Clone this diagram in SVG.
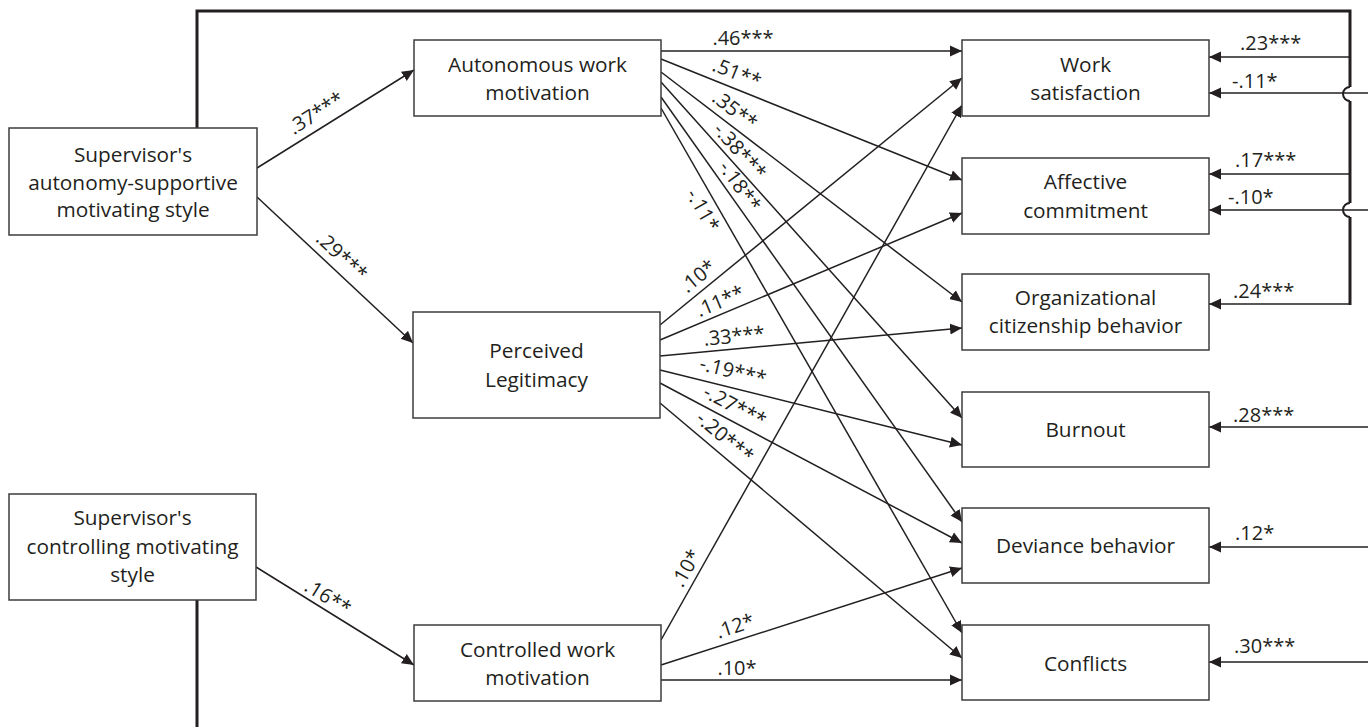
<svg xmlns="http://www.w3.org/2000/svg" width="1368" height="727" viewBox="0 0 1368 727">
<defs>
<marker id="ah" markerUnits="userSpaceOnUse" markerWidth="13" markerHeight="12" refX="12" refY="6" orient="auto">
<path d="M0,0.5 L12,6 L0,11.5 z" fill="#231f20"/>
</marker>
<style>
.box{fill:#fff;stroke:#3c3c3c;stroke-width:1.5}
.t{font-family:"Open Sans","Noto Sans","Liberation Sans",sans-serif;font-size:20.8px;fill:#231f20;text-anchor:middle}
.c{font-family:"Open Sans","Noto Sans","Liberation Sans",sans-serif;font-size:20px;fill:#231f20;text-anchor:middle}
.r{font-family:"Open Sans","Noto Sans","Liberation Sans",sans-serif;font-size:20px;fill:#231f20;text-anchor:start}
.ln{fill:none;stroke:#231f20;stroke-width:1.5;marker-end:url(#ah)}
.thk{fill:none;stroke:#231f20;stroke-width:3}
.hop{fill:none;stroke:#231f20;stroke-width:2}
</style>
</defs>
<rect width="1368" height="727" fill="#fff"/>

<g id="connectors">
<path class="thk" d="M197,128 V11 H1350 V87"/>
<path class="hop" d="M1350,87 A7,7 0 0 0 1350,101"/>
<path class="thk" d="M1350,101 V203"/>
<path class="hop" d="M1350,203 A7,7 0 0 0 1350,217"/>
<path class="thk" d="M1350,217 V305"/>
<path class="thk" d="M197,600 V727"/>
<line class="ln" x1="1350" y1="57" x2="1209" y2="57"/>
<line class="ln" x1="1368" y1="93" x2="1209" y2="93"/>
<line class="ln" x1="1350" y1="174" x2="1209" y2="174"/>
<line class="ln" x1="1368" y1="210" x2="1209" y2="210"/>
<line class="ln" x1="1351" y1="304" x2="1209" y2="304"/>
<line class="ln" x1="1368" y1="427" x2="1209" y2="427"/>
<line class="ln" x1="1368" y1="547" x2="1209" y2="547"/>
<line class="ln" x1="1368" y1="662" x2="1209" y2="662"/>
<line class="ln" x1="257" y1="168" x2="414" y2="70"/>
<line class="ln" x1="257" y1="197" x2="413" y2="343"/>
<line class="ln" x1="256" y1="567" x2="414" y2="665"/>
<line class="ln" x1="661" y1="51" x2="962" y2="51"/>
<line class="ln" x1="661" y1="59" x2="962" y2="180"/>
<line class="ln" x1="661" y1="72" x2="962" y2="302"/>
<line class="ln" x1="661" y1="82" x2="962" y2="418"/>
<line class="ln" x1="661" y1="97" x2="962" y2="522"/>
<line class="ln" x1="661" y1="108" x2="962" y2="633"/>
<line class="ln" x1="660" y1="325" x2="962" y2="78"/>
<line class="ln" x1="660" y1="340" x2="962" y2="213"/>
<line class="ln" x1="660" y1="356" x2="962" y2="328"/>
<line class="ln" x1="660" y1="370" x2="962" y2="445"/>
<line class="ln" x1="660" y1="383" x2="962" y2="543"/>
<line class="ln" x1="660" y1="403" x2="962" y2="658"/>
<line class="ln" x1="661" y1="640" x2="962" y2="105"/>
<line class="ln" x1="661" y1="665" x2="962" y2="568"/>
<line class="ln" x1="661" y1="680" x2="962" y2="680"/>

<text class="c" transform="translate(316,113) rotate(-32)" y="7">.37***</text>
<text class="c" transform="translate(342,256) rotate(43)" y="7">.29***</text>
<text class="c" transform="translate(328,597) rotate(31.8)" y="7">.16**</text>
<text class="c" x="743" y="45">.46***</text>
<text class="c" transform="translate(737,73) rotate(21.9)" y="7">.51**</text>
<text class="c" transform="translate(735,110) rotate(37.4)" y="7">.35**</text>
<text class="c" transform="translate(740,151) rotate(48.1)" y="7">-.38***</text>
<text class="c" transform="translate(740,186) rotate(54.7)" y="7">-.18**</text>
<text class="c" transform="translate(703,210) rotate(60.2)" y="7">-.11*</text>
<text class="c" transform="translate(698,276) rotate(-39.3)" y="7">.10*</text>
<text class="c" transform="translate(720,301) rotate(-22.8)" y="7">.11**</text>
<text class="c" transform="translate(734,336) rotate(-5.3)" y="7">.33***</text>
<text class="c" transform="translate(733,371) rotate(14)" y="7">-.19***</text>
<text class="c" transform="translate(735,406) rotate(27.9)" y="7">-.27***</text>
<text class="c" transform="translate(725,437) rotate(40.2)" y="7">-.20***</text>
<text class="c" transform="translate(686,568) rotate(-60.6)" y="7">.10*</text>
<text class="c" transform="translate(735,626) rotate(-17.9)" y="7">.12*</text>
<text class="c" x="737" y="675">.10*</text>
<text class="r" x="1240" y="50">.23***</text>
<text class="r" x="1232" y="88">-.11*</text>
<text class="r" x="1235" y="167">.17***</text>
<text class="r" x="1228" y="204">-.10*</text>
<text class="r" x="1233" y="298">.24***</text>
<text class="r" x="1233" y="422">.28***</text>
<text class="r" x="1235" y="540">.12*</text>
<text class="r" x="1234" y="653">.30***</text>
</g>

<g id="n-autonomy-support">
<rect class="box" x="9" y="128" width="248" height="107"/>
<text class="t" x="133" y="162">Supervisor's</text>
<text class="t" x="133" y="190">autonomy-supportive</text>
<text class="t" x="133" y="217">motivating style</text>
</g>
<g id="n-controlling">
<rect class="box" x="9" y="494" width="247" height="106"/>
<text class="t" x="132.5" y="525">Supervisor's</text>
<text class="t" x="132.5" y="554">controlling motivating</text>
<text class="t" x="132.5" y="582">style</text>
</g>
<g id="n-autonomous">
<rect class="box" x="414" y="40" width="247" height="76"/>
<text class="t" x="537.5" y="72">Autonomous work</text>
<text class="t" x="537.5" y="100">motivation</text>
</g>
<g id="n-legitimacy">
<rect class="box" x="413" y="312" width="247" height="106"/>
<text class="t" x="536.5" y="358">Perceived</text>
<text class="t" x="536.5" y="387">Legitimacy</text>
</g>
<g id="n-controlled">
<rect class="box" x="414" y="625" width="247" height="76"/>
<text class="t" x="537.5" y="657">Controlled work</text>
<text class="t" x="537.5" y="685">motivation</text>
</g>
<g id="n-satisfaction">
<rect class="box" x="962" y="40" width="247" height="76"/>
<text class="t" x="1085.5" y="72">Work</text>
<text class="t" x="1085.5" y="100">satisfaction</text>
</g>
<g id="n-commitment">
<rect class="box" x="962" y="158" width="247" height="76"/>
<text class="t" x="1085.5" y="189">Affective</text>
<text class="t" x="1085.5" y="218">commitment</text>
</g>
<g id="n-ocb">
<rect class="box" x="962" y="274" width="247" height="76"/>
<text class="t" x="1085.5" y="305">Organizational</text>
<text class="t" x="1085.5" y="333">citizenship behavior</text>
</g>
<g id="n-burnout">
<rect class="box" x="962" y="392" width="247" height="75"/>
<text class="t" x="1085.5" y="437">Burnout</text>
</g>
<g id="n-deviance">
<rect class="box" x="962" y="508" width="247" height="75"/>
<text class="t" x="1085.5" y="553">Deviance behavior</text>
</g>
<g id="n-conflicts">
<rect class="box" x="962" y="625" width="247" height="75"/>
<text class="t" x="1085.5" y="671">Conflicts</text>
</g>
</svg>
